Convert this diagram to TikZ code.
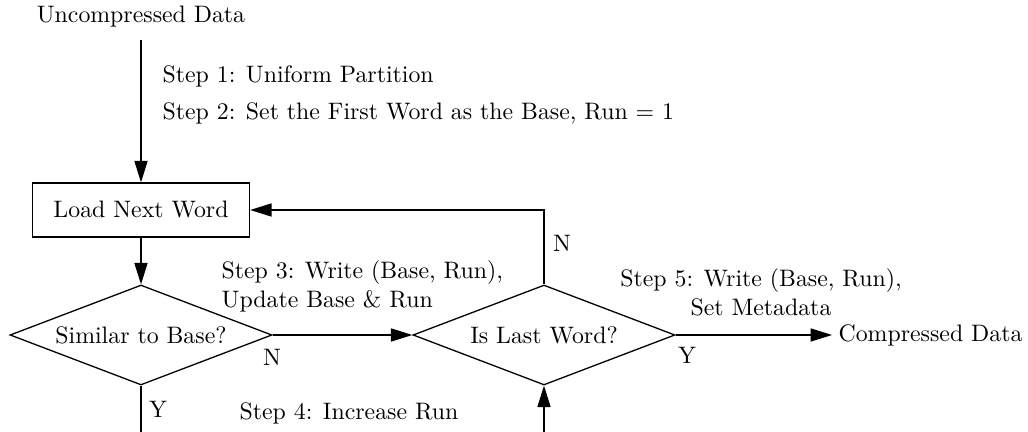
\documentclass[tikz,border=0pt]{standalone}
\usetikzlibrary{shapes.geometric,arrows.meta}
\begin{document}
\begin{tikzpicture}[x=0.42pt,y=-0.42pt,
  line width=0.55pt,
  arr/.style={-{Triangle[length=9pt,width=5.5pt]}},
  procbox/.style={draw, rectangle, minimum width=217*0.42pt, minimum height=54*0.42pt, inner sep=0pt},
  decision/.style={draw, diamond, aspect=2.62, minimum width=262*0.42pt, minimum height=100*0.42pt, inner sep=0pt},
  lbl/.style={inner sep=0pt}]
\useasboundingbox (0,0) rectangle (1028,432);
\clip (0,0) rectangle (1028,432);

\node[lbl] (src) at (141,17) {Uncompressed Data};
\coordinate (srcend) at (141,40);
\node[procbox] (load) at (141,210) {Load Next Word};
\node[decision] (sim) at (141,335) {Similar to Base?};
\node[decision] (last) at (544,335) {Is Last Word?};
\node[lbl, inner sep=2.5pt, anchor=west] (out) at (832,335) {Compressed Data};

\node[lbl, anchor=west] (s1) at (162,76) {Step 1: Uniform Partition};
\node[lbl, anchor=west] (s2) at (162,113) {Step 2: Set the First Word as the Base, Run $=$ 1};
\node[lbl, anchor=west, align=left] (s3) at (221,286.5) {Step 3: Write (Base, Run),\\Update Base \& Run};
\node[lbl] (s4) at (349,413) {Step 4: Increase Run};
\node[lbl, align=center] (s5) at (761,292.5) {Step 5: Write (Base, Run),\\Set Metadata};

\node[lbl] (n1) at (272,357) {N};
\node[lbl] (y1) at (158,409) {Y};
\node[lbl] (n2) at (562,243) {N};
\node[lbl] (y2) at (687,355) {Y};

\draw[arr] (srcend) -- (load.north);
\draw[arr] (load.south) -- (sim.north);
\draw[arr] (sim.east) -- (last.west);
\draw[arr] (last.north) |- (load.east);
\draw[arr] (last.east) -- (out.west);
\draw[arr] (sim.south) -- ++(0,80) -| (last.south);
\end{tikzpicture}
\end{document}
